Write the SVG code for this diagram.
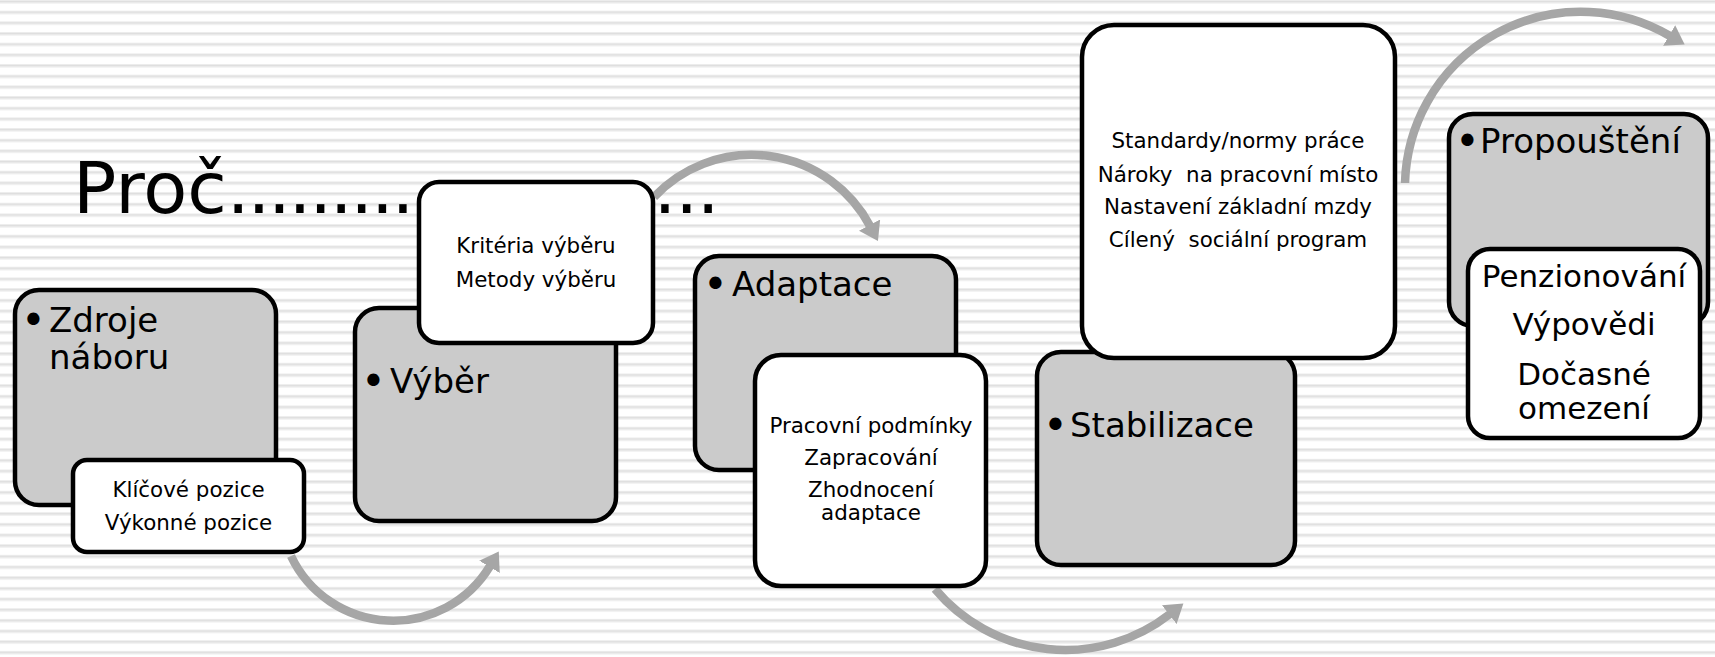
<svg xmlns="http://www.w3.org/2000/svg" width="1715" height="657" viewBox="0 0 1715 657">
  <style>
    text { font-family: "DejaVu Sans", Verdana, sans-serif; fill: #000; }
    .bg { fill: url(#stripes); }
    .boxg { fill: #cbcbcb; stroke: #000; stroke-width: 4.5; }
    .boxw { fill: #ffffff; stroke: #000; stroke-width: 4.5; }
    .big { font-size: 34px; }
    .bul { font-size: 42px; }
    .sm { text-anchor: middle; font-size: 21.4px; }
    .lg { text-anchor: middle; font-size: 31px; }
    .arrow { fill: none; stroke: #a6a6a6; stroke-width: 8.5; marker-end: url(#ah); }
  </style>
  <defs>
    <pattern id="stripes" patternUnits="userSpaceOnUse" x="0" y="0" width="20" height="10.67">
      <rect x="0" y="0" width="20" height="10.67" fill="#ffffff"/>
      <rect x="0" y="0" width="20" height="1" fill="#ececec"/>
      <rect x="0" y="1" width="20" height="1.6" fill="#dedede"/>
      <rect x="0" y="2.6" width="20" height="0.9" fill="#ececec"/>
    </pattern>
    <marker id="ah" markerUnits="userSpaceOnUse" markerWidth="20" markerHeight="24" viewBox="0 0 20 24" refX="1" refY="12" orient="auto">
      <path d="M0,0 L18,12 L0,24 z" fill="#a6a6a6"/>
    </marker>
  </defs>

  <rect class="bg" x="0" y="0" width="1715" height="657"/>

  <g id="connectors">
    <path class="arrow" d="M291,556 A113,113 0 0 0 490,566"/>
    <path class="arrow" d="M654,197 A134,134 0 0 1 870,226"/>
    <path class="arrow" d="M935,589 A170,170 0 0 0 1170,614"/>
    <path class="arrow" d="M1405,183 A176,176 0 0 1 1670,36"/>
  </g>

  <g id="heading">
    <text x="73" y="213" font-size="72">Proč<tspan letter-spacing="-2.3">....................</tspan><tspan dx="15" letter-spacing="-1.3">...</tspan></text>
  </g>

  <g id="zdroje">
    <rect class="boxg" x="15" y="290" width="261" height="215" rx="24"/>
    <text class="bul" x="21" y="335">•</text>
    <text class="big" x="49" y="332">Zdroje</text>
    <text class="big" x="49" y="369">náboru</text>
  </g>
  <g id="zdroje-detail">
    <rect class="boxw" x="73" y="460" width="231" height="92" rx="14"/>
    <text class="sm" x="188.5" y="497">Klíčové pozice</text>
    <text class="sm" x="188.5" y="530">Výkonné pozice</text>
  </g>

  <g id="vyber">
    <rect class="boxg" x="355" y="308" width="261" height="213" rx="24"/>
    <text class="bul" x="361" y="396">•</text>
    <text class="big" x="390" y="393">Výběr</text>
  </g>
  <g id="vyber-detail">
    <rect class="boxw" x="419" y="182" width="234" height="161" rx="20"/>
    <text class="sm" x="536" y="253">Kritéria výběru</text>
    <text class="sm" x="536" y="287">Metody výběru</text>
  </g>

  <g id="adaptace">
    <rect class="boxg" x="695" y="256" width="261" height="214" rx="24"/>
    <text class="bul" x="703" y="299">•</text>
    <text class="big" x="732" y="296">Adaptace</text>
  </g>
  <g id="adaptace-detail">
    <rect class="boxw" x="755" y="355" width="231" height="231" rx="26"/>
    <text class="sm" x="871" y="433">Pracovní podmínky</text>
    <text class="sm" x="871" y="465">Zapracování</text>
    <text class="sm" x="871" y="497">Zhodnocení</text>
    <text class="sm" x="871" y="520">adaptace</text>
  </g>

  <g id="stabilizace">
    <rect class="boxg" x="1037" y="352" width="258" height="213" rx="24"/>
    <text class="bul" x="1043" y="440">•</text>
    <text class="big" x="1070" y="437">Stabilizace</text>
  </g>
  <g id="stabilizace-detail">
    <rect class="boxw" x="1082" y="25" width="313" height="333" rx="32"/>
    <text class="sm" x="1238" y="148" xml:space="preserve">Standardy/normy práce</text>
    <text class="sm" x="1238" y="182" xml:space="preserve">Nároky  na pracovní místo</text>
    <text class="sm" x="1238" y="214" xml:space="preserve">Nastavení základní mzdy</text>
    <text class="sm" x="1238" y="247" xml:space="preserve">Cílený  sociální program</text>
  </g>

  <g id="propousteni">
    <rect class="boxg" x="1449" y="114" width="259" height="212" rx="24"/>
    <text class="bul" x="1455" y="156">•</text>
    <text class="big" x="1480" y="153">Propouštění</text>
  </g>
  <g id="propousteni-detail">
    <rect class="boxw" x="1468" y="249" width="232" height="189" rx="22"/>
    <text class="lg" x="1584" y="287">Penzionování</text>
    <text class="lg" x="1584" y="335">Výpovědi</text>
    <text class="lg" x="1584" y="385">Dočasné</text>
    <text class="lg" x="1584" y="419">omezení</text>
  </g>
</svg>
